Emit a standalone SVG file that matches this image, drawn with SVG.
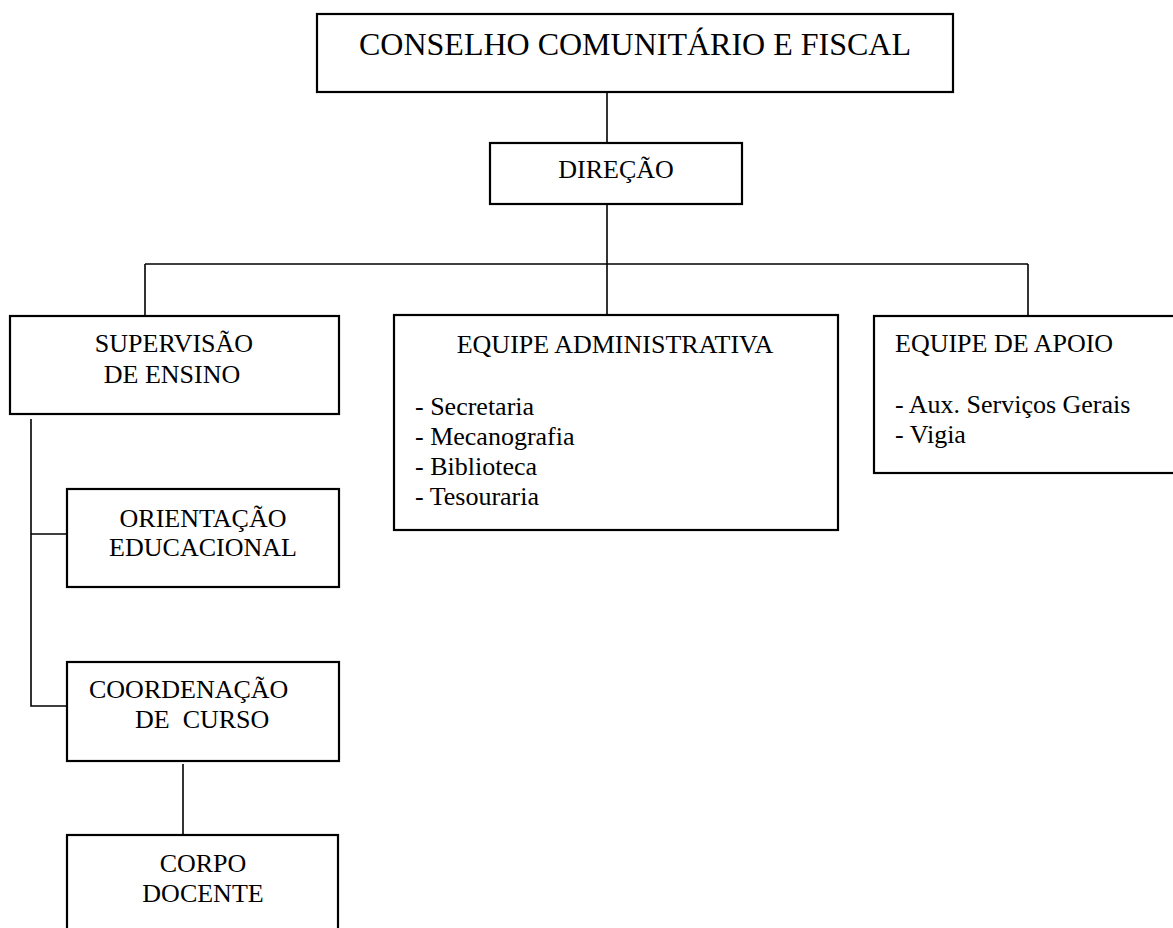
<svg xmlns="http://www.w3.org/2000/svg" width="1173" height="928" viewBox="0 0 1173 928">
<style>
.box{fill:#fff;stroke:#000;stroke-width:2.2}
.ln{fill:none;stroke:#000;stroke-width:1.6}
text{font-family:"Liberation Serif","Times New Roman",serif;font-size:26px;fill:#000}
.c{text-anchor:middle}
.big{font-size:32px}
</style>
<rect width="1173" height="928" fill="#fff"/>
<g id="connectors">
<path class="ln" d="M607,92 V146"/>
<path class="ln" d="M607,204 V321"/>
<path class="ln" d="M145,264 H1028"/>
<path class="ln" d="M145,264 V319"/>
<path class="ln" d="M1028,264 V321"/>
<path class="ln" d="M31,419 V706 H68"/>
<path class="ln" d="M31,534 H68"/>
<path class="ln" d="M183,764 V840"/>
</g>
<g id="conselho">
<rect class="box" x="317" y="14" width="636" height="78"/>
<text class="c big" x="635" y="55">CONSELHO COMUNITÁRIO E FISCAL</text>
</g>
<g id="direcao">
<rect class="box" x="490" y="143" width="252" height="61"/>
<text class="c" x="616" y="178">DIREÇÃO</text>
</g>
<g id="supervisao">
<rect class="box" x="10" y="316" width="329" height="98"/>
<text class="c" x="174" y="352">SUPERVISÃO</text>
<text class="c" x="172" y="383">DE ENSINO</text>
</g>
<g id="equipe-administrativa">
<rect class="box" x="394" y="315" width="444" height="215"/>
<text class="c" x="615" y="353">EQUIPE ADMINISTRATIVA</text>
<text x="415" y="415">- Secretaria</text>
<text x="415" y="445">- Mecanografia</text>
<text x="415" y="475">- Biblioteca</text>
<text x="415" y="505">- Tesouraria</text>
</g>
<g id="equipe-apoio">
<rect class="box" x="874" y="316" width="310" height="157"/>
<text x="895" y="352">EQUIPE DE APOIO</text>
<text x="895" y="413">- Aux. Serviços Gerais</text>
<text x="895" y="443">- Vigia</text>
</g>
<g id="orientacao">
<rect class="box" x="67" y="489" width="272" height="98"/>
<text class="c" x="203" y="527">ORIENTAÇÃO</text>
<text class="c" x="203" y="556">EDUCACIONAL</text>
</g>
<g id="coordenacao">
<rect class="box" x="67" y="662" width="272" height="99"/>
<text x="89" y="698">COORDENAÇÃO</text>
<text x="135" y="728" xml:space="preserve" style="white-space:pre">DE  CURSO</text>
</g>
<g id="corpo-docente">
<rect class="box" x="67" y="835" width="271" height="110"/>
<text class="c" x="203" y="872">CORPO</text>
<text class="c" x="203" y="902">DOCENTE</text>
</g>
</svg>
